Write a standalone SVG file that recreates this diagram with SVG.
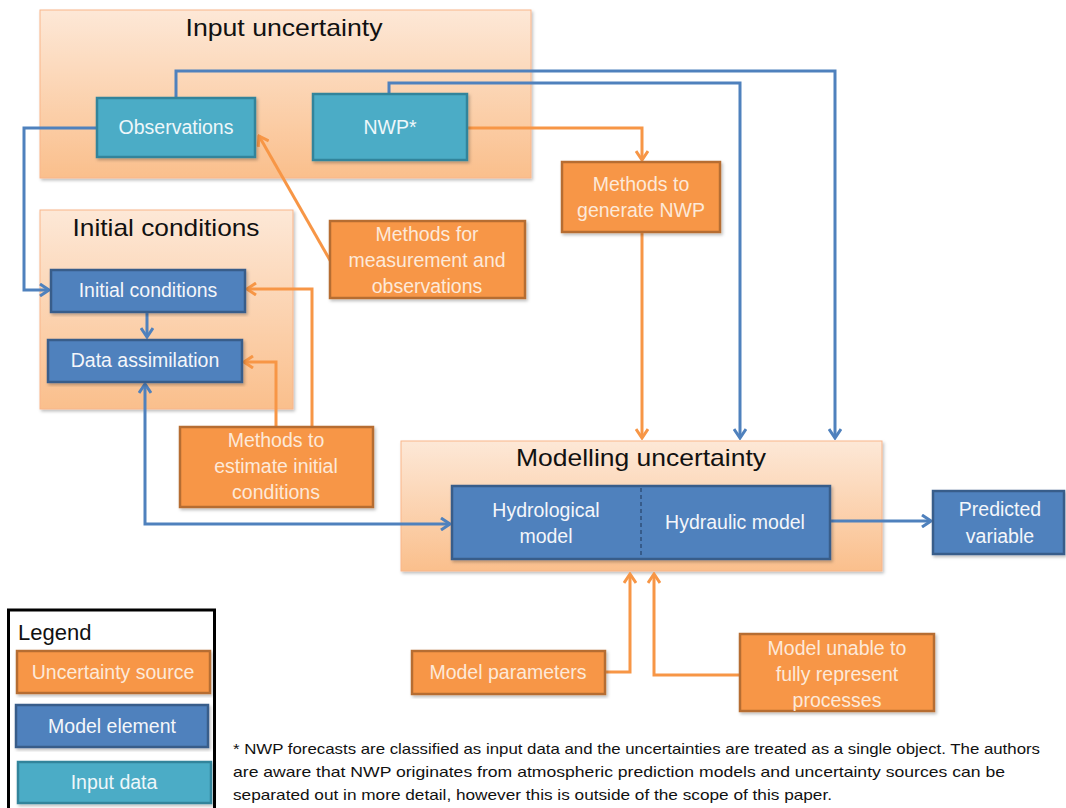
<svg xmlns="http://www.w3.org/2000/svg" width="1066" height="808" viewBox="0 0 1066 808">
<defs>
<linearGradient id="peach" x1="0" y1="0" x2="0" y2="1">
<stop offset="0" stop-color="#FDE8D7"/>
<stop offset="1" stop-color="#FABF8C"/>
</linearGradient>
<filter id="sh" x="-5%" y="-5%" width="110%" height="115%">
<feDropShadow dx="1.5" dy="2" stdDeviation="1.5" flood-color="#000" flood-opacity="0.25"/>
</filter>
<marker id="ab" markerUnits="userSpaceOnUse" viewBox="0 0 12 14" refX="10" refY="7" markerWidth="12" markerHeight="14" orient="auto-start-reverse">
<path d="M1,1 L10,7 L1,13" fill="none" stroke="#4F81BD" stroke-width="3"/>
</marker>
<marker id="ao" markerUnits="userSpaceOnUse" viewBox="0 0 12 14" refX="10" refY="7" markerWidth="12" markerHeight="14" orient="auto-start-reverse">
<path d="M1,1 L10,7 L1,13" fill="none" stroke="#F79646" stroke-width="3"/>
</marker>
</defs>
<style>
.cont{fill:url(#peach);stroke:#F9B58A;stroke-width:1;filter:url(#sh)}
.src{fill:#F79646;stroke:#B66D31;stroke-width:2.5;filter:url(#sh)}
.mod{fill:#4F81BD;stroke:#385D8A;stroke-width:2.5;filter:url(#sh)}
.inp{fill:#4BACC6;stroke:#31849B;stroke-width:2.5;filter:url(#sh)}
text{font-family:"Liberation Sans",Arial,sans-serif;text-anchor:middle;dominant-baseline:central}
.title{font-size:24px;fill:#111}
.ts{font-size:19.5px;fill:#FDE9D9}
.tm{font-size:19.5px;fill:#F4F6FA}
.ti{font-size:19.5px;fill:#EEF7FA}
.cb{fill:none;stroke:#4F81BD;stroke-width:3}
.co{fill:none;stroke:#F79646;stroke-width:3}
.foot{font-size:14.5px;fill:#111;text-anchor:start;dominant-baseline:auto}
</style>

<!-- containers -->
<g id="input-uncertainty">
<rect class="cont" x="40" y="10" width="491" height="168"/>
<text class="title" x="284" y="27" textLength="197" lengthAdjust="spacingAndGlyphs">Input uncertainty</text>
</g>
<g id="initial-conditions-group">
<rect class="cont" x="40" y="210" width="253" height="199"/>
<text class="title" x="166" y="227" textLength="187" lengthAdjust="spacingAndGlyphs">Initial conditions</text>
</g>
<g id="modelling-uncertainty">
<rect class="cont" x="401" y="441" width="481" height="130"/>
<text class="title" x="641" y="457" textLength="250" lengthAdjust="spacingAndGlyphs">Modelling uncertainty</text>
</g>

<!-- connectors -->
<g id="connectors">
<path class="cb" d="M176,98 V71 H835 V438" marker-end="url(#ab)"/>
<path class="cb" d="M389,94 V83 H740 V438" marker-end="url(#ab)"/>
<path class="cb" d="M97,128 H24 V290 H49" marker-end="url(#ab)"/>
<path class="cb" d="M147,313 V337" marker-end="url(#ab)"/>
<path class="cb" d="M145,384 V524 H450" marker-start="url(#ab)" marker-end="url(#ab)"/>
<path class="cb" d="M831,521 H931" marker-end="url(#ab)"/>
<path class="co" d="M467,128 H642 V160" marker-end="url(#ao)"/>
<path class="co" d="M642,232 V438" marker-end="url(#ao)"/>
<path class="co" d="M331,262 L259,136" marker-end="url(#ao)"/>
<path class="co" d="M312,426 V289 H247" marker-end="url(#ao)"/>
<path class="co" d="M276,426 V362 H244" marker-end="url(#ao)"/>
<path class="co" d="M605,672 H630 V574" marker-end="url(#ao)"/>
<path class="co" d="M740,675 H654 V574" marker-end="url(#ao)"/>
</g>

<!-- nodes -->
<g id="observations">
<rect class="inp" x="97" y="98" width="158" height="59"/>
<text class="ti" x="176" y="127">Observations</text>
</g>
<g id="nwp">
<rect class="inp" x="313" y="94" width="154" height="66"/>
<text class="ti" x="390" y="127">NWP*</text>
</g>
<g id="initial-conditions">
<rect class="mod" x="51" y="270" width="194" height="42"/>
<text class="tm" x="148" y="290">Initial conditions</text>
</g>
<g id="data-assimilation">
<rect class="mod" x="48" y="340" width="194" height="42"/>
<text class="tm" x="145" y="360">Data assimilation</text>
</g>
<g id="methods-measurement">
<rect class="src" x="330" y="221" width="195" height="77"/>
<text class="ts" x="427" y="234">Methods for</text>
<text class="ts" x="427" y="260">measurement and</text>
<text class="ts" x="427" y="286">observations</text>
</g>
<g id="methods-generate-nwp">
<rect class="src" x="562" y="162" width="158" height="70"/>
<text class="ts" x="641" y="184">Methods to</text>
<text class="ts" x="641" y="210">generate NWP</text>
</g>
<g id="methods-estimate">
<rect class="src" x="180" y="427" width="193" height="80"/>
<text class="ts" x="276" y="440">Methods to</text>
<text class="ts" x="276" y="466">estimate initial</text>
<text class="ts" x="276" y="492">conditions</text>
</g>
<g id="hydro-models">
<rect class="mod" x="452" y="486" width="378" height="73"/>
<line x1="641" y1="488" x2="641" y2="557" stroke="#2F4F7A" stroke-width="1.5" stroke-dasharray="4,3"/>
<text class="tm" x="546" y="510">Hydrological</text>
<text class="tm" x="546" y="536">model</text>
<text class="tm" x="735" y="522">Hydraulic model</text>
</g>
<g id="predicted-variable">
<rect class="mod" x="933" y="491" width="131" height="63"/>
<text class="tm" x="1000" y="509">Predicted</text>
<text class="tm" x="1000" y="536">variable</text>
</g>
<g id="model-parameters">
<rect class="src" x="412" y="651" width="193" height="43"/>
<text class="ts" x="508" y="672">Model parameters</text>
</g>
<g id="model-unable">
<rect class="src" x="740" y="634" width="194" height="77"/>
<text class="ts" x="837" y="648">Model unable to</text>
<text class="ts" x="837" y="674">fully represent</text>
<text class="ts" x="837" y="700">processes</text>
</g>

<!-- legend -->
<g id="legend">
<rect x="8.5" y="610" width="206" height="210" fill="#fff" stroke="#000" stroke-width="3"/>
<text x="18" y="632" style="font-size:22px;fill:#111;text-anchor:start">Legend</text>
<rect class="src" x="17" y="651" width="193" height="42"/>
<text class="ts" x="113" y="672">Uncertainty source</text>
<rect class="mod" x="16" y="705" width="192" height="42"/>
<text class="tm" x="112" y="726">Model element</text>
<rect class="inp" x="18" y="762" width="193" height="41"/>
<text class="ti" x="114" y="782">Input data</text>
</g>

<!-- footnote -->
<g id="footnote">
<text class="foot" x="233" y="754" textLength="807" lengthAdjust="spacingAndGlyphs">* NWP forecasts are classified as input data and the uncertainties are treated as a single object. The authors</text>
<text class="foot" x="233" y="777" textLength="772" lengthAdjust="spacingAndGlyphs">are aware that NWP originates from atmospheric prediction models and uncertainty sources can be</text>
<text class="foot" x="233" y="800" textLength="599" lengthAdjust="spacingAndGlyphs">separated out in more detail, however this is outside of the scope of this paper.</text>
</g>
</svg>
